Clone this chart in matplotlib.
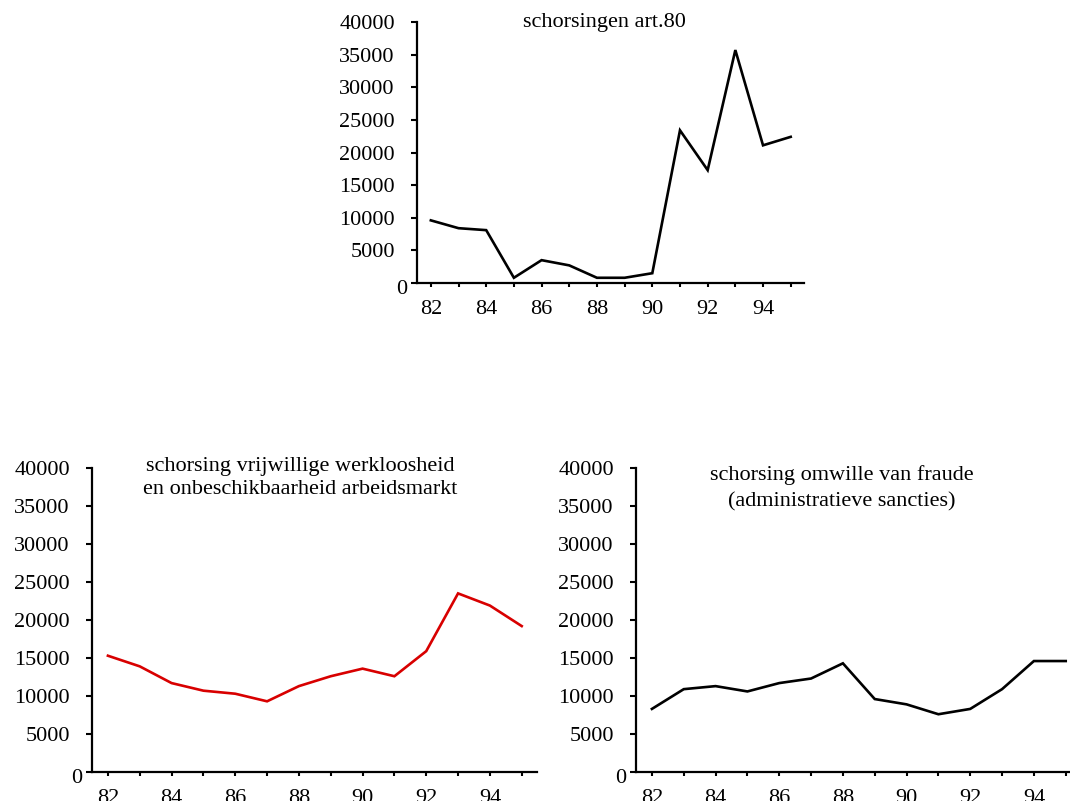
import matplotlib
matplotlib.use("Agg")
import matplotlib.pyplot as plt
from matplotlib.transforms import ScaledTranslation

plt.rcParams['font.family'] = ['Liberation Serif', 'DejaVu Serif']

jaren = list(range(82, 96))
jaar_labels = ['82', '84', '86', '88', '90', '92', '94']

art80 = [9600, 8400, 8100, 800, 3500, 2700, 800, 800, 1500,
         23400, 17300, 35700, 21100, 22400]
vrijwillig = [15300, 13900, 11700, 10700, 10300, 9300, 11300,
              12600, 13600, 12600, 15900, 23500, 21900, 19200]
fraude = [8300, 10900, 11300, 10600, 11700, 12300, 14300,
          9600, 8900, 7600, 8300, 10900, 14600, 14600]

y_ticks = list(range(0, 40001, 5000))

fig = plt.figure(figsize=(10.70, 8.01), dpi=100)
W, H = 1070.0, 801.0


def paneel(x0, x1, y_top, y_bot, reeks, kleur, titel, tx, ty, ls=1.2):
    ax = fig.add_axes([x0 / W, 1 - y_bot / H, (x1 - x0) / W, (y_bot - y_top) / H])
    ax.plot(jaren, reeks, color=kleur, lw=1.9, solid_joinstyle='miter')
    ax.set_xlim(81.5, 95.48)
    ax.set_ylim(0, 40000)
    for s in ['top', 'right']:
        ax.spines[s].set_visible(False)
    for s in ['left', 'bottom']:
        ax.spines[s].set_linewidth(1.6)
    ax.set_xticks(jaren)
    ax.set_xticklabels([str(j) if str(j) in jaar_labels else '' for j in jaren])
    ax.set_yticks(y_ticks)
    ax.set_yticklabels([str(v) for v in y_ticks])
    ax.tick_params(axis='y', direction='out', length=4, width=1.5,
                   labelsize=16, pad=12)
    ax.tick_params(axis='x', direction='out', length=3, width=1.5,
                   labelsize=16, pad=9.5)
    # het nulpunt staat iets verder naar rechts en lager
    nul = ax.get_yticklabels()[0]
    nul.set_transform(nul.get_transform()
                      + ScaledTranslation(12 / 100, -4 / 100, fig.dpi_scale_trans))
    ax.text(tx, ty, titel, transform=ax.transAxes, ha='center', va='center',
            fontsize=16, linespacing=ls)
    return ax


paneel(417, 804, 22, 283, art80, 'black', 'schorsingen art.80', 0.485, 1.0)
paneel(92, 537, 468, 772, vrijwillig, '#d80000',
       'schorsing vrijwillige werkloosheid\nen onbeschikbaarheid arbeidsmarkt',
       0.468, 0.968, ls=1.28)
paneel(636, 1081, 468, 772, fraude, 'black',
       'schorsing omwille van fraude\n(administratieve sancties)',
       0.462, 0.932, ls=1.5)

fig.savefig('out.png', dpi=100)
